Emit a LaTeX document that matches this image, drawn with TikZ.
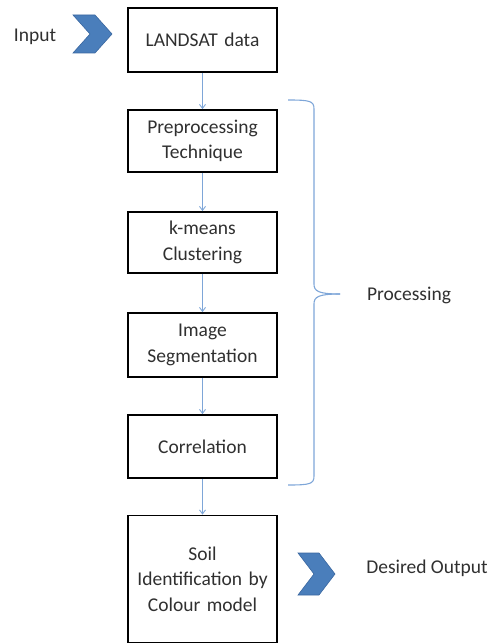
\documentclass[tikz,border=0pt]{standalone}
\usepackage{fontspec}
\setmainfont{Carlito}
\usetikzlibrary{arrows.meta}
\definecolor{flowblue}{HTML}{7EA6D8}
\definecolor{chevfill}{HTML}{4A7EBB}
\definecolor{chevline}{HTML}{3A67A0}
\definecolor{txtgrey}{HTML}{303030}
\begin{document}
\begin{tikzpicture}[x=1pt,y=-1pt]
		\tikzset{stepbox/.style = {shape=rectangle,draw=black,line width=1.8pt,fill=white,
			text width=145pt,align=center,minimum width=149pt,inner sep=0pt,
			text=txtgrey,font=\fontsize{19.5}{25.5}\selectfont}}
		\tikzset{flow/.style = {-{Straight Barb[length=4pt,width=6pt]},draw=flowblue,line width=0.9pt}}
		\tikzset{side/.style = {text=txtgrey,font=\fontsize{19.5}{22}\selectfont}}
		\tikzset{chev/.style = {fill=chevfill,draw=chevline,line width=0.6pt}}
		\useasboundingbox (0,0) rectangle (491,644);
		\node[stepbox,minimum height=64pt] (landsat) at (202.5,40) {LANDSAT data};
		\node[stepbox,minimum height=62pt] (prep) at (202.5,141) {Preprocessing\\Technique};
		\node[stepbox,minimum height=61pt] (kmeans) at (202.5,242.5) {k-means\\Clustering};
		\node[stepbox,minimum height=64pt] (seg) at (202.5,345) {Image\\Segmentation};
		\node[stepbox,minimum height=63pt] (corr) at (202.5,446.5) {Correlation};
		\node[stepbox,minimum height=127pt] (soil) at (202.5,579) {Soil\\Identification by\\Colour model};
		\path[flow] (landsat) edge (prep);
		\path[flow] (prep) edge (kmeans);
		\path[flow] (kmeans) edge (seg);
		\path[flow] (seg) edge (corr);
		\path[flow] (corr) edge (soil);
		% brace round the processing steps
		\coordinate (bracetop) at (288,100);
		\coordinate (bracetip) at (340,294);
		\coordinate (bracebot) at (288,485);
		\draw[flowblue,line width=1.1pt] (bracetop) .. controls (310,100) and (314,101) .. (314,109)
			-- (314,284) .. controls (314,291) and (318,294) .. (bracetip);
		\draw[flowblue,line width=1.1pt] (bracebot) .. controls (310,485) and (314,484) .. (314,476)
			-- (314,304) .. controls (314,297) and (318,294) .. (bracetip);
		\node[side] (proc) at (409,295) {Processing};
		% chevrons
		\node[side] (input) at (35,37) {Input};
		\draw[chev] (73,15) -- ++(22,0) -- ++(17,19) -- ++(-17,19) -- ++(-22,0) -- ++(17,-19) -- cycle;
		\node[side] (output) at (427,568) {Desired Output};
		\draw[chev] (298,553) -- ++(21,0) -- ++(16,21) -- ++(-16,21) -- ++(-21,0) -- ++(16,-21) -- cycle;
	\end{tikzpicture}
\end{document}
